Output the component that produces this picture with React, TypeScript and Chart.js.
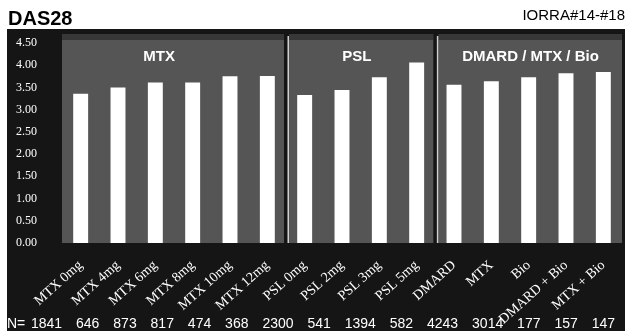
import React, { useEffect, useRef } from "react";
import { Chart, registerables } from "chart.js";

Chart.register(...registerables);

const categories = [
  "MTX 0mg", "MTX 4mg", "MTX 6mg", "MTX 8mg", "MTX 10mg", "MTX 12mg",
  "PSL 0mg", "PSL 2mg", "PSL 3mg", "PSL 5mg",
  "DMARD", "MTX", "Bio", "DMARD + Bio", "MTX + Bio",
];
const das28 = [3.36, 3.5, 3.61, 3.61, 3.75, 3.76, 3.33, 3.44, 3.73, 4.06, 3.56, 3.64, 3.73, 3.82, 3.85];
const nValues = [1841, 646, 873, 817, 474, 368, 2300, 541, 1394, 582, 4243, 3014, 177, 157, 147];
const groupTitles = ["MTX", "PSL", "DMARD / MTX / Bio"];
const groupStarts = [0, 6, 10];
const groupEnds = [6, 10, 15];
const groupTitleAt = [2.1, 7.4, 12.05];
const chartTitle = "DAS28";
const sourceLabel = "IORRA#14-#18";
const yMin = 0;
const yMax = 4.5;
const yStep = 0.5;

const W = 629;
const H = 331;
const BOX_L = 7;
const BOX_T = 29;
const BOX_R = 625;
const PANEL_TOP = 34;
const DARK = "#151515";
const PANEL = "#555555";

const decorPlugin = {
  id: "decor",
  beforeDraw(chart: any) {
    const { ctx, chartArea } = chart;
    ctx.save();
    ctx.fillStyle = "#ffffff";
    ctx.fillRect(0, 0, W, H);
    ctx.fillStyle = DARK;
    ctx.fillRect(BOX_L, BOX_T, BOX_R - BOX_L, H - BOX_T);
    const cw = (chartArea.right - chartArea.left) / categories.length;
    for (let g = 0; g < groupStarts.length; g++) {
      let x0 = chartArea.left + groupStarts[g] * cw;
      let x1 = chartArea.left + groupEnds[g] * cw;
      if (groupStarts[g] > 0) x0 += 3;
      if (groupEnds[g] < categories.length) x1 -= 2;
      ctx.fillStyle = PANEL;
      ctx.fillRect(x0, PANEL_TOP, x1 - x0, chartArea.bottom - PANEL_TOP);
      ctx.fillStyle = "rgba(0,0,0,0.35)";
      ctx.fillRect(x0, PANEL_TOP, x1 - x0, 6);
      if (groupStarts[g] > 0) {
        ctx.fillStyle = "#cfcfcf";
        ctx.fillRect(x0 - 1.5, PANEL_TOP + 2, 1.5, chartArea.bottom - PANEL_TOP - 2);
      }
    }
    ctx.restore();
  },
  afterDraw(chart: any) {
    const { ctx, chartArea } = chart;
    const cw = (chartArea.right - chartArea.left) / categories.length;
    ctx.save();
    ctx.fillStyle = "#000000";
    ctx.textBaseline = "alphabetic";
    ctx.textAlign = "left";
    ctx.font = "bold 20px 'Liberation Sans', Arial, sans-serif";
    ctx.fillText(chartTitle, 8, 25);
    ctx.textAlign = "right";
    ctx.font = "15px 'Liberation Sans', Arial, sans-serif";
    ctx.fillText(sourceLabel, 625, 20);
    ctx.fillStyle = "#ffffff";
    ctx.textAlign = "center";
    ctx.font = "bold 15px 'Liberation Sans', Arial, sans-serif";
    for (let g = 0; g < groupTitles.length; g++) {
      const cx = chartArea.left + (groupTitleAt[g] + 0.5) * cw;
      ctx.fillText(groupTitles[g], cx, 61);
    }
    ctx.font = "14px 'Liberation Sans', Arial, sans-serif";
    ctx.textAlign = "left";
    const baseY = 328;
    ctx.fillText("N=", 7, baseY);
    const start = 31;
    const end = 615;
    const widths = nValues.map((v) => ctx.measureText(String(v)).width);
    const total = widths.reduce((a, b) => a + b, 0);
    const gap = (end - start - total) / (nValues.length - 1);
    let cx = start;
    nValues.forEach((v, i) => {
      ctx.fillText(String(v), cx, baseY);
      cx += widths[i] + gap;
    });
    ctx.restore();
  },
};

export default function App() {
  const ref = useRef<HTMLCanvasElement | null>(null);
  useEffect(() => {
    document.body.style.margin = "0";
    const canvas = ref.current;
    if (!canvas) return;
    const chart = new Chart(canvas, {
      type: "bar",
      data: {
        labels: categories,
        datasets: [
          {
            label: chartTitle,
            data: das28,
            backgroundColor: "#ffffff",
            borderWidth: 0,
            barPercentage: 0.4,
            categoryPercentage: 1,
          },
        ],
      },
      options: {
        responsive: false,
        animation: false,
        devicePixelRatio: 1,
        layout: { padding: { left: BOX_L, right: 7, top: 43, bottom: 0 } },
        plugins: {
          legend: { display: false },
          title: { display: false },
          tooltip: { enabled: false },
        },
        scales: {
          x: {
            grid: { display: false },
            border: { display: false },
            ticks: {
              color: "#ffffff",
              autoSkip: false,
              minRotation: 42,
              maxRotation: 42,
              padding: 6,
              font: { family: "'Liberation Serif', 'Times New Roman', serif", size: 14 },
            },
            afterFit(scale: any) {
              scale.height = 88;
            },
          },
          y: {
            min: yMin,
            max: yMax,
            grid: { display: false },
            border: { display: false },
            ticks: {
              stepSize: yStep,
              color: "#ffffff",
              padding: 17,
              font: { family: "'Liberation Serif', 'Times New Roman', serif", size: 12 },
              callback: (v: any) => Number(v).toFixed(2),
            },
            afterFit(scale: any) {
              scale.width = 55;
            },
          },
        },
      },
      plugins: [decorPlugin],
    });
    return () => chart.destroy();
  }, []);
  return (
    <div style={{ width: W, height: H }}>
      <canvas ref={ref} width={W} height={H} style={{ display: "block", width: W, height: H }} />
    </div>
  );
}
